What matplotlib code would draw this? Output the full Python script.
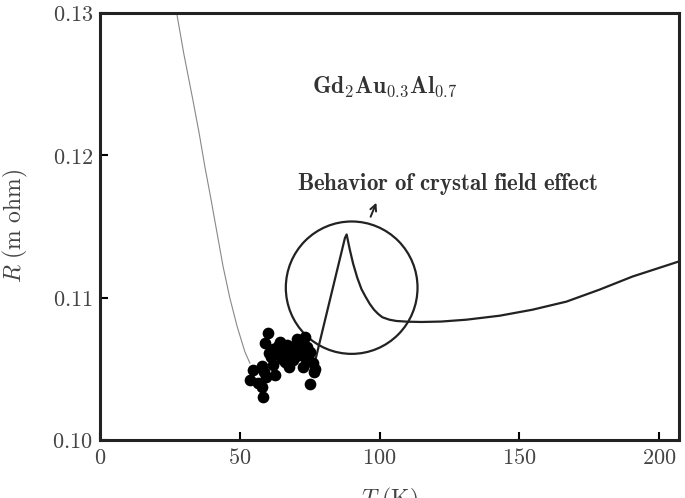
import matplotlib.pyplot as plt
from matplotlib.patches import Ellipse

plt.rcParams['mathtext.fontset'] = 'cm'
plt.rcParams['font.family'] = 'serif'
plt.rcParams['font.serif'] = ['DejaVu Serif']

# thin gray fit line (left branch)
t_fit = [26.5, 27.5, 30.0, 33.2, 35.5, 37.5, 39.7, 41.8, 44.0, 46.4, 49.0,
         51.8, 53.6]
r_fit = [0.1304, 0.1299, 0.1271, 0.1239, 0.1215, 0.1192, 0.1169, 0.1146,
         0.1122, 0.1100, 0.1080, 0.1062, 0.1054]

# measured points (cluster)
t_pts = [60.0, 59.0, 64.3, 61.8, 65.4, 70.4, 73.2, 71.4, 75.0, 68.9, 76.1, 72.5,
         57.9, 54.6, 53.6, 56.4, 57.9, 58.2, 62.5, 75.0, 76.4, 67.5, 66.1, 61.0,
         63.5, 66.8, 69.5, 72.0, 74.0, 60.5, 64.0, 67.0, 70.0, 73.5, 58.5, 62.0,
         68.0, 71.0, 74.5, 77.0, 65.0, 59.5]
r_pts = [0.1075, 0.1068, 0.1069, 0.1064, 0.1062, 0.1071, 0.1072, 0.1063, 0.1062,
         0.1056, 0.1054, 0.1051, 0.1052, 0.1049, 0.1042, 0.1040, 0.1037, 0.1030,
         0.1046, 0.1039, 0.1048, 0.1051, 0.1055, 0.1058, 0.1066, 0.1067, 0.1066,
         0.1068, 0.1065, 0.1061, 0.1060, 0.1061, 0.1059, 0.1057, 0.1048, 0.1053,
         0.1063, 0.1060, 0.1058, 0.1050, 0.1057, 0.1044]

# solid line (crystal field peak and high-T branch)
t_line = [76.5, 87.6, 88.2, 89.3, 90.5, 92.0, 93.5, 95.0, 96.5, 98.0, 99.5,
          101.0, 103.5, 106.0, 110.0, 115.0, 122.0, 131.0, 142.9, 154.6, 166.8,
          178.6, 190.4, 207.0]
r_line = [0.1052, 0.11420, 0.11444, 0.1134, 0.1124, 0.1114, 0.1106, 0.11005,
          0.10955, 0.10915, 0.10885, 0.10862, 0.10845, 0.10836, 0.10831,
          0.10829, 0.10832, 0.10845, 0.10873, 0.10915, 0.10972, 0.11056,
          0.11148, 0.11254]

fig = plt.figure(figsize=(6.85, 4.98), dpi=100)
ax = fig.add_axes([0.146, 0.1165, 0.845, 0.8575])

ax.plot(t_fit, r_fit, color='#888888', lw=0.8)
ax.plot(t_line, r_line, color='#222222', lw=1.6)
ax.scatter(t_pts, r_pts, s=55, color='black', zorder=3)

ax.add_patch(Ellipse((90.0, 0.1107), 47.1, 0.0093, fill=False,
                     edgecolor='#222222', lw=1.6))
ax.annotate('', xy=(99.2, 0.11685), xytext=(96.4, 0.1155),
            arrowprops=dict(arrowstyle='->', color='#222222', lw=1.4,
                            mutation_scale=11))

ax.text(70.4, 0.11796, r'$\mathbf{Behavior\ of\ crystal\ field\ effect}$',
        fontsize=16.5, va='center', ha='left', color='#333333')
ax.text(75.7, 0.12479, r'$\mathbf{Gd_2Au_{0.3}Al_{0.7}}$',
        fontsize=17, va='center', ha='left', color='#333333')

ax.set_xlim(0, 207)
ax.set_ylim(0.10, 0.13)
ax.set_xticks([0, 50, 100, 150, 200])
ax.set_yticks([0.10, 0.11, 0.12, 0.13])
ax.set_xticklabels([r'$\mathbf{%d}$' % v for v in [0, 50, 100, 150, 200]])
ax.set_yticklabels([r'$\mathbf{%.2f}$' % v for v in [0.10, 0.11, 0.12, 0.13]])
ax.tick_params(direction='in', length=6, width=1.5, labelsize=16,
               labelcolor='#444444', pad=5)
for s in ax.spines.values():
    s.set_linewidth(2.2)
    s.set_color('#222222')

ax.set_xlabel(r'$T\ \mathrm{(K)}$', fontsize=17, color='#444444', labelpad=12)
ax.set_ylabel(r'$R\ \mathrm{(m\ ohm)}$', fontsize=17, color='#444444', labelpad=16)

fig.savefig('out.png', dpi=100)
